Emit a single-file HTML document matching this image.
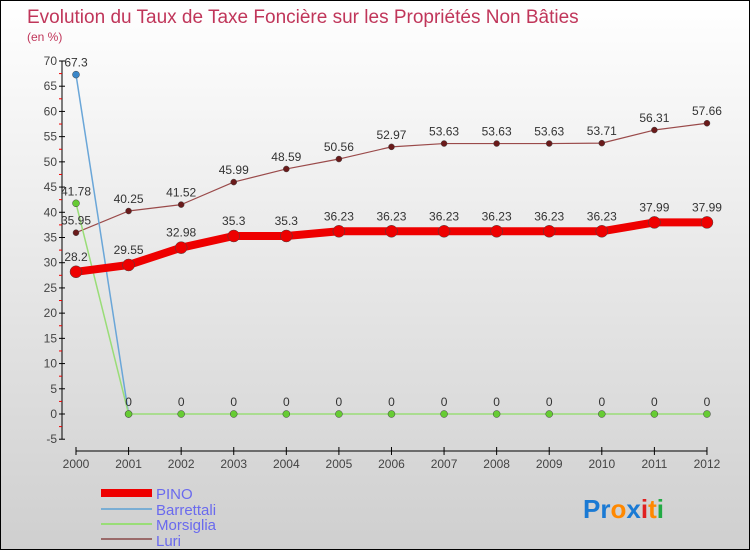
<!DOCTYPE html>
<html><head><meta charset="utf-8"><style>
body{margin:0}
#c{width:750px;height:550px;position:relative;box-sizing:border-box;border:1px solid #000;background:linear-gradient(#fff,#cfcfcf);font-family:"Liberation Sans",sans-serif;overflow:hidden}
</style></head><body>
<div id="c">
<svg id="s" width="748" height="548" xmlns="http://www.w3.org/2000/svg">
<text x="26" y="22" font-size="19" fill="#c0365a">Evolution du Taux de Taxe Foncière sur les Propriétés Non Bâties</text>
<text x="26" y="40" font-size="12" fill="#c0365a">(en %)</text>
<g id="axes"></g><g id="series"></g>
<g>
<rect x="100" y="488" width="51" height="8" fill="#e00"/>
<text x="155" y="498" font-size="15" fill="#6a6aee">PINO</text>
<line x1="100" y1="508" x2="151" y2="508" stroke="#7aaed4" stroke-width="2"/>
<text x="155" y="514" font-size="15" fill="#6a6aee">Barrettali</text>
<line x1="100" y1="523" x2="151" y2="523" stroke="#99dd77" stroke-width="2"/>
<text x="155" y="529" font-size="15" fill="#6a6aee">Morsiglia</text>
<line x1="100" y1="538" x2="151" y2="538" stroke="#9a6a6a" stroke-width="2"/>
<text x="155" y="545" font-size="15" fill="#6a6aee">Luri</text>
</g>
<text x="582" y="517" font-size="26" font-weight="bold"><tspan fill="#1a7ad4">Pr</tspan><tspan fill="#ff8800">o</tspan><tspan fill="#1a7ad4">x</tspan><tspan fill="#e02020">i</tspan><tspan fill="#ff8800">t</tspan><tspan fill="#22aa44">i</tspan></text>
</svg></div>
<script>
const years=[2000,2001,2002,2003,2004,2005,2006,2007,2008,2009,2010,2011,2012];
const pino=[28.2,29.55,32.98,35.3,35.3,36.23,36.23,36.23,36.23,36.23,36.23,37.99,37.99];
const barrettali=[67.3,0,null,null,null,null,null,null,null,null,null,null,null];
const morsiglia=[41.78,0,0,0,0,0,0,0,0,0,0,0,0];
const luri=[35.95,40.25,41.52,45.99,48.59,50.56,52.97,53.63,53.63,53.63,53.71,56.31,57.66];
const yTicks=[-5,0,5,10,15,20,25,30,35,40,45,50,55,60,65,70];
const NS="http://www.w3.org/2000/svg";
const X=i=>75+i*52.58, Y=v=>413+(0-v)*5.043;
function mk(t,a,p){const e=document.createElementNS(NS,t);for(const k in a)e.setAttribute(k,a[k]);p.appendChild(e);return e;}
const ax=document.getElementById('axes'),sr=document.getElementById('series');
let l=mk('line',{x1:61,y1:Y(70),x2:61,y2:Y(-5),stroke:'#000'},ax);


yTicks.forEach(v=>{const y=Y(v);
mk('line',{x1:58,y1:y,x2:64,y2:y,stroke:'#000'},ax);
if(v<70)mk('line',{x1:58,y1:Y(v+2.5),x2:61,y2:Y(v+2.5),stroke:'#e00'},ax);
const t=mk('text',{x:56,y:y+4,'font-size':12,fill:'#444','text-anchor':'end'},ax);t.textContent=v;

});
l=mk('line',{x1:X(0),y1:450,x2:X(12),y2:450,stroke:'#000'},ax);


years.forEach((yr,i)=>{mk('line',{x1:X(i),y1:446,x2:X(i),y2:454,stroke:'#000'},ax);
const t=mk('text',{x:X(i),y:467,'font-size':12,fill:'#444','text-anchor':'middle'},ax);t.textContent=yr;

});
function series(d,color,w,r,name,dot){
const pts=d.map((v,i)=>v==null?null:[X(i),Y(v)]).filter(p=>p);
const p=mk('polyline',{points:pts.map(p=>p.join(',')).join(' '),fill:'none',stroke:color,'stroke-width':w,'stroke-linejoin':'round'},sr);


pts.forEach(q=>{const c=mk('circle',{cx:q[0],cy:q[1],r:r,fill:dot,stroke:'#444','stroke-width':0.5},sr);

});}
series(luri,'#9a4a4a',1.2,3,'luri','#6a1a1a');
series(barrettali,'#6aa6d8',1.5,3.5,'barrettali','#3a86c8');
series(morsiglia,'#99dd77',1.5,3.5,'morsiglia','#66cc33');
series(pino,'#ee0000',8,6,'pino','#ee0000');
function labels(d,dy,name){d.forEach((v,i)=>{if(v==null)return;
const t=mk('text',{x:X(i),y:Y(v)+dy,'font-size':12,fill:'#333','text-anchor':'middle'},sr);t.textContent=v;

});}
labels(luri,-8,'luri');labels(pino,-11,'pino');labels(morsiglia.slice(1).map(v=>v).concat([]).length?morsiglia.map((v,i)=>i==0?null:v):[],-8,'morsiglia');
[[barrettali[0],0,'barrettali'],[morsiglia[0],0,'morsiglia']].forEach(a=>{const t=mk('text',{x:X(a[1]),y:Y(a[0])-8,'font-size':12,fill:'#333','text-anchor':'middle'},sr);t.textContent=a[0];

});
</script>
</body></html>
